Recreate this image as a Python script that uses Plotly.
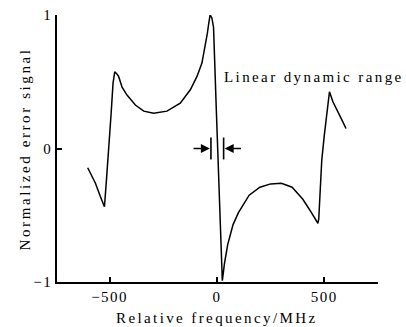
import plotly.graph_objects as go

# Relative frequency (MHz) and normalized error signal
freq = [-602, -585, -566, -543, -524, -514, -504, -493, -484, -476, -467, -458, -450,
        -442, -419, -380, -341, -295, -233, -171, -124, -93, -70, -55, -45, -38, -32,
        -24, -16, -3, 8, 19, 25, 35, 50, 75, 100, 150, 200, 250, 300, 350, 400, 440,
        460, 470, 474, 480, 488, 500, 512, 524, 540, 560, 580, 601]
signal = [-0.144, -0.2, -0.26, -0.36, -0.436, -0.22, -0.02, 0.26, 0.49, 0.575, 0.56, 0.54, 0.50,
          0.46, 0.40, 0.326, 0.28, 0.264, 0.28, 0.34, 0.44, 0.54, 0.64, 0.76, 0.86, 0.94, 1.0,
          0.98, 0.91, 0.29, -0.21, -0.71, -0.99, -0.86, -0.72, -0.57, -0.48, -0.35, -0.29, -0.265, -0.26, -0.29, -0.38, -0.48,
          -0.54, -0.56, -0.53, -0.35, -0.09, 0.1, 0.28, 0.425, 0.35, 0.28, 0.22, 0.15]

x_ticks = [-500, 0, 500]
x_tick_labels = ["\u2212500", "0", "500"]
y_ticks = [-1, 0, 1]
y_tick_labels = ["\u22121", "0", "1"]

# linear dynamic range markers
range_left = -28
range_right = 31

FONT = "Liberation Serif"


def sp(t, ls):
    return (f'<span style="font-family:\'Liberation Serif\';font-size:15px;'
            f'letter-spacing:{ls}px">{t}</span>')


fig = go.Figure()
fig.add_trace(go.Scatter(x=freq, y=signal, mode="lines",
                         line=dict(color="black", width=1.5), showlegend=False,
                         hoverinfo="skip"))

shapes = []
for xv in (range_left, range_right):
    shapes.append(dict(type="line", xref="x", yref="y", x0=xv, x1=xv, y0=-0.082, y1=0.082,
                       line=dict(color="black", width=1.6)))

annotations = [
    dict(x=range_left - 5, y=0, ax=-116, ay=0, xref="x", yref="y", axref="x", ayref="y",
         text="", showarrow=True, arrowhead=2, arrowsize=1.2, arrowwidth=1.5, arrowcolor="black",
         standoff=0),
    dict(x=range_right + 5, y=0, ax=119, ay=0, xref="x", yref="y", axref="x", ayref="y",
         text="", showarrow=True, arrowhead=2, arrowsize=1.2, arrowwidth=1.5, arrowcolor="black",
         standoff=0),
    dict(x=22, y=0.535, xref="x", yref="y", xanchor="left", yanchor="middle",
         text=sp("Linear dynamic range", 2.4), showarrow=False,
         font=dict(family=FONT, size=15, color="black")),
    dict(x=-0.0997, y=0.50, xref="paper", yref="paper", xanchor="center", yanchor="middle",
         text=sp("Normalized error signal", 2.6), textangle=-90, showarrow=False,
         font=dict(family=FONT, size=15, color="black")),
    dict(x=0.498, y=-0.135, xref="paper", yref="paper", xanchor="center", yanchor="middle",
         text=sp("Relative frequency/MHz", 2.4), showarrow=False,
         font=dict(family=FONT, size=15, color="black")),
]

fig.update_layout(
    width=406, height=327,
    margin=dict(l=57, r=28, t=15, b=45, pad=0, autoexpand=False),
    paper_bgcolor="white", plot_bgcolor="white",
    font=dict(family=FONT, size=15, color="black"),
    shapes=shapes, annotations=annotations,
    xaxis=dict(range=[-745, 750], showgrid=False, zeroline=False, showline=True,
               linecolor="black", linewidth=1.5, ticks="inside", ticklen=5, tickwidth=1.5,
               tickcolor="black", tickvals=x_ticks, automargin=False,
               ticktext=[sp(t, 1.5) for t in x_tick_labels],
               tickfont=dict(family=FONT, size=15, color="black")),
    yaxis=dict(range=[-1, 1], showgrid=False, zeroline=False, showline=True,
               linecolor="black", linewidth=1.5, ticks="inside", ticklen=5, tickwidth=1.5,
               tickcolor="black", tickvals=y_ticks, automargin=False,
               ticktext=[sp(t, 1.5) for t in y_tick_labels],
               tickfont=dict(family=FONT, size=15, color="black")),
)

fig.write_html("out.html", config={"displayModeBar": False},
               post_script="document.body.style.margin='0';")
